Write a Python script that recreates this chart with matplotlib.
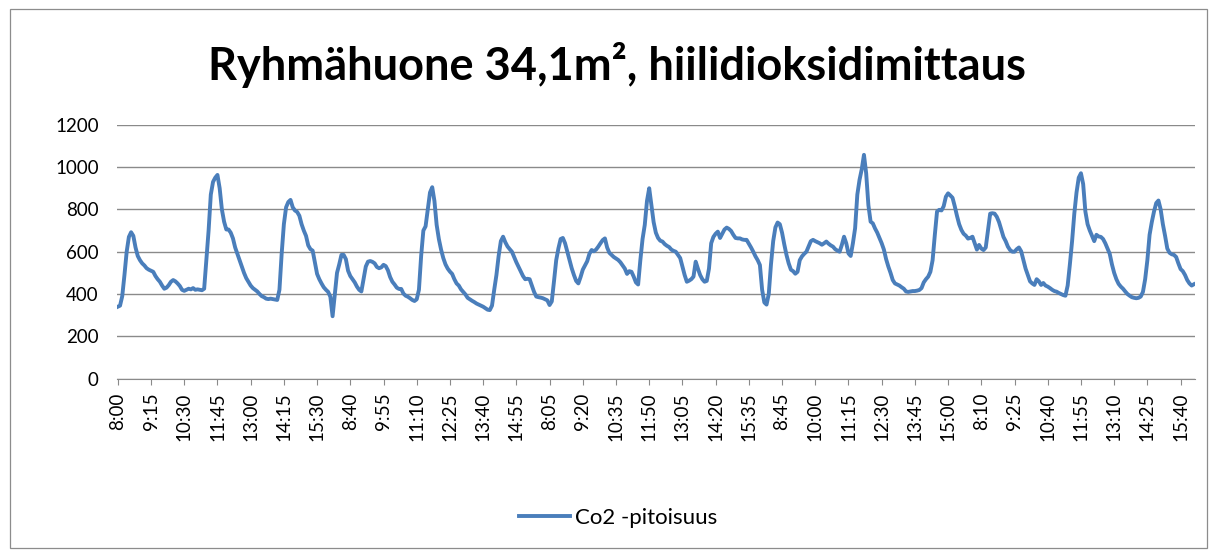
import matplotlib
matplotlib.use("Agg")
import matplotlib.pyplot as plt
from matplotlib.patches import Rectangle

# five measuring days, one reading every 5 minutes from 8:00
day_lengths = [97, 97, 97, 97, 99]

day1 = [340, 345, 390, 490, 600, 670, 692, 675, 620, 580,
        560, 545, 535, 522, 515, 510, 505, 485, 470, 458,
        440, 425, 430, 442, 458, 466, 460, 450, 438, 420,
        415, 420, 425, 422, 428, 420, 422, 420, 418, 425,
        560, 700, 870, 930, 950, 963, 900, 800, 742, 705,
        705, 690, 663, 620, 590, 561, 530, 500, 475, 458,
        440, 428, 420, 412, 400, 390, 385, 378, 376, 378,
        376, 374, 372, 420, 590, 730, 810, 835, 845, 810,
        795, 788, 770, 730, 700, 675, 630, 612, 605, 550,
        495, 470, 450, 432, 420, 410, 387]

day2 = [295, 400, 500, 540, 585, 585, 565, 510, 485, 470,
        455, 435, 420, 412, 470, 530, 553, 556, 552, 545,
        528, 522, 526, 538, 532, 512, 480, 458, 445, 430,
        424, 424, 402, 392, 387, 380, 372, 367, 375, 420,
        580, 700, 720, 800, 880, 905, 840, 727, 660, 610,
        570, 540, 520, 506, 495, 470, 450, 440, 422, 410,
        398, 382, 375, 368, 362, 355, 350, 345, 340, 333,
        326, 324, 345, 420, 490, 580, 650, 671, 645, 625,
        612, 600, 575, 550, 528, 505, 485, 470, 472, 470,
        440, 410, 388, 385, 383, 380, 375]

day3 = [370, 348, 365, 460, 560, 616, 660, 665, 640, 600,
        560, 522, 490, 462, 450, 480, 515, 535, 555, 590,
        608, 602, 610, 624, 640, 655, 663, 620, 595, 585,
        575, 568, 561, 550, 535, 520, 495, 508, 505, 482,
        455, 445, 560, 660, 727, 840, 900, 820, 740, 690,
        665, 652, 648, 636, 628, 622, 610, 604, 600, 585,
        570, 530, 490, 458, 463, 470, 482, 553, 520, 490,
        470, 458, 462, 520, 640, 670, 685, 695, 665, 685,
        705, 714, 708, 698, 680, 665, 663, 663, 658, 656,
        656, 638, 620, 600, 578, 560, 537]

day4 = [420, 360, 350, 400, 540, 650, 715, 738, 730, 690,
        635, 585, 545, 515, 508, 496, 505, 560, 578, 590,
        600, 625, 650, 656, 650, 645, 640, 633, 640, 648,
        638, 630, 624, 612, 605, 600, 632, 671, 640, 592,
        580, 640, 711, 870, 940, 990, 1058, 970, 820, 742,
        734, 710, 690, 665, 640, 610, 565, 530, 500, 466,
        450, 445, 440, 432, 425, 412, 410, 412, 414, 414,
        416, 419, 428, 455, 470, 482, 505, 560, 679, 790,
        798, 795, 815, 860, 876, 866, 855, 815, 770, 730,
        703, 685, 676, 662, 665, 671, 640]

day5 = [610, 632, 615, 608, 620, 700, 780, 782, 780, 765,
        740, 705, 670, 650, 624, 608, 600, 600, 612, 620,
        602, 560, 520, 490, 460, 450, 443, 470, 460, 443,
        452, 440, 435, 428, 420, 414, 411, 405, 400, 395,
        392, 440, 540, 650, 780, 880, 950, 971, 920, 790,
        730, 700, 675, 650, 680, 672, 670, 660, 640, 615,
        590, 540, 500, 470, 448, 435, 425, 412, 400, 392,
        385, 382, 380, 382, 388, 410, 470, 560, 680, 740,
        790, 830, 842, 800, 730, 675, 615, 595, 588, 585,
        575, 545, 518, 508, 490, 466, 450, 440, 446]

co2 = day1 + day2 + day3 + day4 + day5

times = []
for n in day_lengths:
    for k in range(n):
        mins = 8 * 60 + 5 * k
        times.append(f"{mins // 60}:{mins % 60:02d}")

y_ticks = [0, 200, 400, 600, 800, 1000, 1200]
label_step = 15

plt.rcParams['font.family'] = ['Lato', 'DejaVu Sans']

fig = plt.figure(figsize=(12.17, 5.52), dpi=100)
ax = fig.add_axes([0.0959, 0.3141, 0.886, 0.4598])

# chart area border
fig.patches.append(Rectangle((0.008, 0.008), 0.984, 0.975, transform=fig.transFigure,
                             fill=False, edgecolor='#8c8c8c', linewidth=0.9))

line, = ax.plot(range(len(co2)), co2, color='#4a7ebb', linewidth=2.8,
                solid_joinstyle='round', label='Co2 -pitoisuus')

ax.set_xlim(-0.5, len(co2) - 0.5)
ax.set_ylim(0, 1200)
ax.set_yticks(y_ticks)
ax.set_yticklabels([str(v) for v in y_ticks], fontsize=13.5)
ax.yaxis.grid(True, color='#8a8a8a', linewidth=1.0)
ax.set_axisbelow(True)

pos = list(range(0, len(co2), label_step))
ax.set_xticks(pos)
ax.set_xticklabels([times[p] for p in pos], rotation=90, fontsize=13.5)

for s in ['top', 'right', 'left']:
    ax.spines[s].set_visible(False)
ax.spines['bottom'].set_color('#8a8a8a')
ax.tick_params(axis='y', length=0, pad=13)
ax.tick_params(axis='x', length=4, color='#8a8a8a', pad=6)

fig.text(0.507, 0.882, 'Ryhmähuone 34,1m², hiilidioksidimittaus',
         ha='center', va='center', fontsize=32.5, fontweight='bold')

fig.legend(handles=[line], loc='center', bbox_to_anchor=(0.508, 0.062),
           frameon=False, fontsize=16, handlelength=2.3, handletextpad=0.25)

fig.savefig('out.png', dpi=100)
